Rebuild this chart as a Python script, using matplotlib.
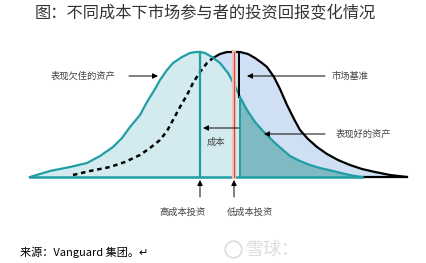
import matplotlib.pyplot as plt

plt.rcParams['font.family'] = ['Noto Sans CJK SC', 'DejaVu Sans']

# curve heights above the baseline
high_cost_x = [30, 50, 70, 87, 100, 113, 122, 130, 140, 147, 155, 160, 167, 173, 182, 190, 196,
               200, 205, 212, 220, 228, 235, 240, 247, 255, 262, 267, 275, 283, 290, 300, 310,
               320, 333, 345, 355, 362]
high_cost_y = [0, 6, 10, 14, 21, 30, 39, 50, 62, 75, 88, 97, 107, 114, 120, 124, 125,
               125, 124, 120, 114, 104, 91, 80, 67, 55, 47, 42, 34, 27, 21, 16, 12,
               9, 6, 3, 1, 0]

market_x = [73, 90, 110, 125, 140, 150, 160, 167, 173, 180, 187, 193, 200, 207, 213,
            220, 227, 233, 240, 248, 255, 262, 267, 274, 280, 287, 294, 300, 308, 317,
            327, 338, 350, 362, 375, 390, 407]
market_y = [2, 6, 10, 15, 22, 29, 37, 46, 57, 70, 82, 94, 105, 114, 119,
            123, 125, 125, 125, 123, 119, 114, 110, 100, 88, 72, 58, 47, 38, 30,
            23, 17, 12, 8, 5, 2, 0]

split_x = 213      # where the market curve leaves the high-cost area
high_cost_line = 200
low_cost_line = 234
bench_line = 240

title = '图：不同成本下市场参与者的投资回报变化情况'
source = '来源：Vanguard 集团。↵'

teal = '#1f9ea3'
teal_fill = '#d3eaee'
blue_fill = '#cfe0f4'
dark_fill = '#7fb9c1'

fig = plt.figure(figsize=(4.26, 2.63), dpi=100)
ax = fig.add_axes([0, 0, 1, 1])
ax.set_xlim(0, 426)
ax.set_ylim(-86, 177)
ax.axis('off')

# fills
ax.fill_between(market_x, 0, market_y, color=blue_fill, lw=0, zorder=1)
ax.fill_between(high_cost_x, 0, high_cost_y, color=teal_fill, lw=0, zorder=2)
right_x = [x for x in high_cost_x if x >= bench_line]
right_y = [y for x, y in zip(high_cost_x, high_cost_y) if x >= bench_line]
ax.fill_between(right_x, 0, right_y, color=dark_fill, lw=0, zorder=3)

# market curve: dashed inside the high-cost area, solid outside
dash_x = [x for x in market_x if x <= split_x]
dash_y = [y for x, y in zip(market_x, market_y) if x <= split_x]
solid_x = [x for x in market_x if x >= split_x]
solid_y = [y for x, y in zip(market_x, market_y) if x >= split_x]
ax.plot(dash_x, dash_y, color='black', lw=1.8, ls=(0, (1.8, 1.5)), zorder=4)
ax.plot(solid_x, solid_y, color='black', lw=1.6, zorder=5, solid_capstyle='round')
ax.plot([high_cost_x[-1], market_x[-1]], [0, 0], color='black', lw=1.6, zorder=5)

ax.plot(high_cost_x, high_cost_y, color=teal, lw=1.6, zorder=6)
ax.plot([high_cost_x[0], high_cost_x[-1]], [0, 0], color=teal, lw=1.8, zorder=6)

# vertical markers
top_hc = max(high_cost_y)
top_mk = max(market_y)
hc_at_bench = high_cost_y[high_cost_x.index(bench_line)]
ax.plot([high_cost_line, high_cost_line], [0, top_hc], color=teal, lw=1.6, zorder=7)
ax.plot([low_cost_line, low_cost_line], [0, top_mk], color='#f4c4bc', lw=3, zorder=7)
ax.plot([low_cost_line, low_cost_line], [0, top_mk], color='#d9473a', lw=0.9, zorder=8)
ax.plot([bench_line - 1, bench_line - 1], [hc_at_bench, top_mk], color='black', lw=1.4, zorder=7)
ax.plot([bench_line, bench_line], [0, hc_at_bench], color=teal, lw=1.4, zorder=7)

# annotations
lab = dict(fontsize=6.7, color='#444444', va='center', ha='center', zorder=10)
arr = dict(arrowstyle='-|>', color='black', lw=0.7, mutation_scale=8, shrinkA=0, shrinkB=0)

ax.text(83, 101, '表现欠佳的资产', **lab)
ax.annotate('', xy=(158, 101), xytext=(129, 101), arrowprops=arr, zorder=10)
ax.text(350, 101, '市场基准', **lab)
ax.annotate('', xy=(247, 101), xytext=(325, 101), arrowprops=arr, zorder=10)
ax.text(363, 43, '表现好的资产', **lab)
ax.annotate('', xy=(264, 43), xytext=(325, 43), arrowprops=arr, zorder=10)
ax.text(216, 35, '成本', **lab)
ax.annotate('', xy=(203, 49), xytext=(239, 49), arrowprops=arr, zorder=10)

ax.annotate('', xy=(high_cost_line, -3), xytext=(high_cost_line, -20), arrowprops=arr, zorder=10)
ax.annotate('', xy=(low_cost_line, -3), xytext=(low_cost_line, -20), arrowprops=arr, zorder=10)
ax.text(183, -35, '高成本投资', **lab)
ax.text(250, -35, '低成本投资', **lab)

ax.text(205, 163, title, fontsize=11.7, color='#333333', ha='center', va='center')
ax.text(20, -75, source, fontsize=8, color='black', ha='left', va='center')

# watermark
ax.plot([233], [-72], marker='o', ms=12, mfc='none', mec='#dddddd', mew=1.2)
ax.text(273, -73, '雪球：', fontsize=13, color='#dddddd', ha='center', va='center')

fig.savefig('out.png', dpi=100)
